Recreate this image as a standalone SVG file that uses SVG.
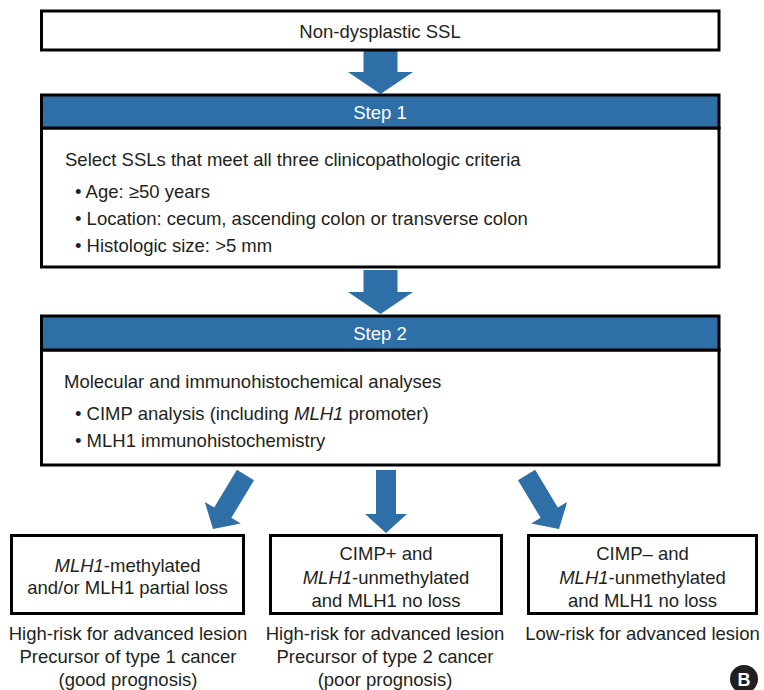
<svg xmlns="http://www.w3.org/2000/svg" width="764" height="690" viewBox="0 0 764 690">
<style>
text{font-family:"Liberation Sans",Arial,sans-serif;font-size:18.5px;fill:#231f20}
.c{text-anchor:middle}
.hd{fill:#fff;text-anchor:middle}
.it{font-style:italic}
.box{fill:#fff;stroke:#000;stroke-width:3}
.head{fill:#2e6fa7;stroke:#000;stroke-width:3}
.arr{fill:#2e6fa7}
</style>
<defs>
<polygon id="bigArrow" points="-17,-44 17,-44 17,-22 32.5,-22 0,0 -32.5,-22 -17,-22"/>
<polygon id="smallArrow" points="-10,-63 10,-63 10,-19 21,-19 0,0 -21,-19 -10,-19"/>
</defs>
<rect width="764" height="690" fill="#fff"/>
<g id="connectors">
<use href="#bigArrow" class="arr" x="380.5" y="94"/>
<use href="#bigArrow" class="arr" x="380.5" y="314"/>
<use href="#smallArrow" class="arr" transform="translate(213,529) rotate(31)"/>
<use href="#smallArrow" class="arr" transform="translate(386,533)"/>
<use href="#smallArrow" class="arr" transform="translate(559,529) rotate(-31)"/>
</g>
<g id="start">
<rect class="box" x="41.5" y="11" width="677.5" height="39"/>
<text class="c" x="380" y="37.5">Non-dysplastic SSL</text>
</g>
<g id="step1">
<rect class="box" x="41.5" y="128" width="677.5" height="139"/>
<rect class="head" x="41.5" y="95" width="677.5" height="33"/>
<text class="hd" x="380" y="119">Step 1</text>
<text x="65" y="166">Select SSLs that meet all three clinicopathologic criteria</text>
<text x="75" y="198">• Age: ≥50 years</text>
<text x="75" y="225">• Location: cecum, ascending colon or transverse colon</text>
<text x="75" y="252">• Histologic size: &gt;5 mm</text>
</g>
<g id="step2">
<rect class="box" x="41.5" y="350" width="677.5" height="115"/>
<rect class="head" x="41.5" y="316" width="677.5" height="34"/>
<text class="hd" x="380" y="340">Step 2</text>
<text x="64" y="388">Molecular and immunohistochemical analyses</text>
<text x="75" y="420">• CIMP analysis (including <tspan class="it">MLH1</tspan> promoter)</text>
<text x="75" y="447">• MLH1 immunohistochemistry</text>
</g>
<g id="result1">
<rect class="box" x="11.5" y="535.5" width="232" height="78"/>
<text class="c" x="127.5" y="572"><tspan class="it">MLH1</tspan>-methylated</text>
<text class="c" x="127.5" y="594">and/or MLH1 partial loss</text>
<text class="c" x="128" y="640">High-risk for advanced lesion</text>
<text class="c" x="128" y="663">Precursor of type 1 cancer</text>
<text class="c" x="128" y="686">(good prognosis)</text>
</g>
<g id="result2">
<rect class="box" x="270.5" y="535.5" width="231" height="78"/>
<text class="c" x="386" y="560">CIMP+ and</text>
<text class="c" x="386" y="584"><tspan class="it">MLH1</tspan>-unmethylated</text>
<text class="c" x="386" y="607">and MLH1 no loss</text>
<text class="c" x="385" y="640">High-risk for advanced lesion</text>
<text class="c" x="385" y="663">Precursor of type 2 cancer</text>
<text class="c" x="385" y="686">(poor prognosis)</text>
</g>
<g id="result3">
<rect class="box" x="528.5" y="535.5" width="228" height="78"/>
<text class="c" x="642.5" y="560">CIMP– and</text>
<text class="c" x="642.5" y="584"><tspan class="it">MLH1</tspan>-unmethylated</text>
<text class="c" x="642.5" y="607">and MLH1 no loss</text>
<text class="c" x="642.5" y="640">Low-risk for advanced lesion</text>
</g>
<g id="panel-label">
<circle cx="744" cy="679" r="14" fill="#231f20"/>
<text class="c" x="744" y="685.5" style="fill:#fff;font-weight:bold;font-size:18px">B</text>
</g>
</svg>
